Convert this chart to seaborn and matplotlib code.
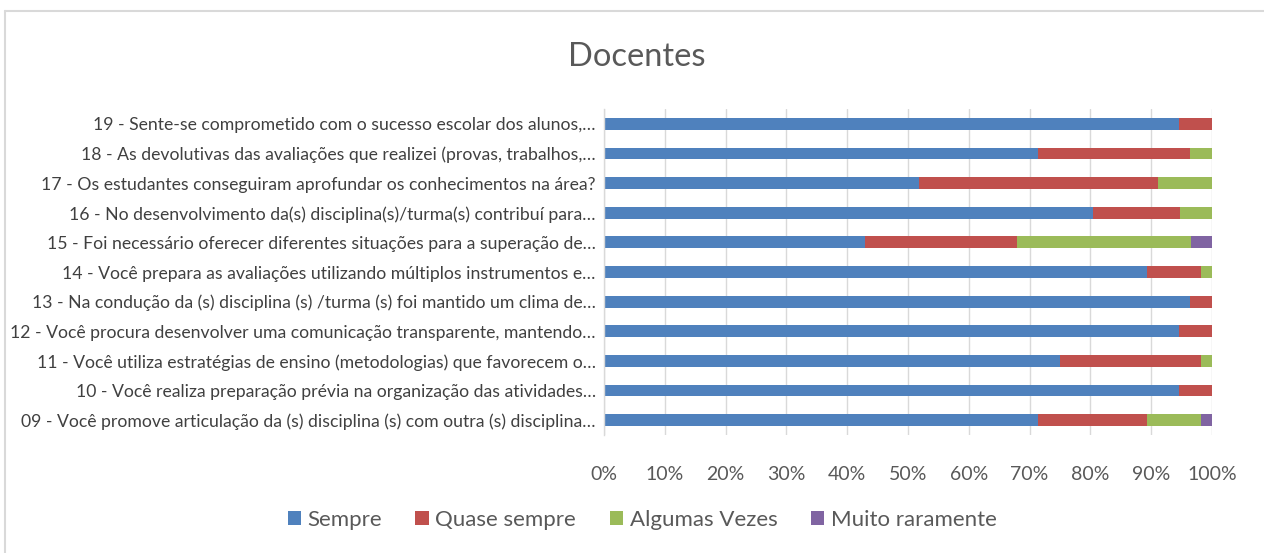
import matplotlib
matplotlib.use("Agg")
import matplotlib.pyplot as plt
import seaborn as sns
import pandas as pd
import numpy as np
from matplotlib.patches import Patch
from matplotlib.lines import Line2D

categories = [
    "19 - Sente-se comprometido com o sucesso escolar dos alunos,…",
    "18 - As devolutivas das avaliações que realizei (provas, trabalhos,…",
    "17 - Os estudantes conseguiram aprofundar os conhecimentos na área?",
    "16 - No desenvolvimento da(s) disciplina(s)/turma(s) contribuí para…",
    "15 - Foi necessário oferecer diferentes situações para a superação de…",
    "14 - Você prepara as avaliações utilizando múltiplos instrumentos e…",
    "13 - Na condução da (s) disciplina (s) /turma (s) foi mantido um clima de…",
    "12 - Você procura desenvolver uma comunicação transparente, mantendo…",
    "11 - Você utiliza estratégias de ensino (metodologias) que favorecem o…",
    "10 - Você realiza preparação prévia na organização das atividades…",
    "09 - Você promove articulação da (s) disciplina (s) com outra (s) disciplina…",
]
series_names = ["Sempre", "Quase sempre", "Algumas Vezes", "Muito raramente"]
sempre = [94.6, 71.4, 51.8, 80.4, 42.9, 89.3, 96.4, 94.6, 75.0, 94.6, 71.4]
quase_sempre = [5.4, 25.0, 39.3, 14.3, 25.0, 8.9, 3.6, 5.4, 23.2, 5.4, 17.9]
algumas_vezes = [0.0, 3.6, 8.9, 5.3, 28.6, 1.8, 0.0, 0.0, 1.8, 0.0, 8.9]
muito_raramente = [0.0, 0.0, 0.0, 0.0, 3.5, 0.0, 0.0, 0.0, 0.0, 0.0, 1.8]
colors = ["#4F81BD", "#C0504D", "#9BBB59", "#8064A2"]
x_ticklabels = ["0%", "10%", "20%", "30%", "40%", "50%", "60%", "70%", "80%", "90%", "100%"]

sns.set_theme(style="white")
plt.rcParams["font.family"] = ["Lato", "DejaVu Sans"]

W, H = 1264, 553
fig = plt.figure(figsize=(W / 100, H / 100), dpi=100)
fig.patch.set_facecolor("white")

# chart border (left/top visible, extends beyond right/bottom)
fig.add_artist(Line2D([5 / W, 5 / W], [0, 1 - 11 / H], transform=fig.transFigure, color="#d9d9d9", lw=1.5))
fig.add_artist(Line2D([5 / W, 1], [1 - 11 / H, 1 - 11 / H], transform=fig.transFigure, color="#d9d9d9", lw=1.5))

ax_left, ax_right, ax_top, ax_bottom = 604, 1212, 109, 435
ax = fig.add_axes([ax_left / W, 1 - ax_bottom / H, (ax_right - ax_left) / W, (ax_bottom - ax_top) / H])

df = pd.DataFrame({
    "cat": categories,
    "Sempre": sempre,
    "Quase sempre": quase_sempre,
    "Algumas Vezes": algumas_vezes,
    "Muito raramente": muito_raramente,
})
cum = df[series_names].cumsum(axis=1)

for name, col in reversed(list(zip(series_names, colors))):
    sns.barplot(x=cum[name], y=df["cat"], orient="h", color=col, width=0.4,
                ax=ax, saturation=1, linewidth=0, order=categories)

ax.set_xlim(0, 100)
ax.set_ylim(len(categories) - 0.5, -0.5)
ax.set_xticks(np.arange(0, 101, 10))
ax.set_xticklabels(x_ticklabels)
ax.set_xlabel("")
ax.set_ylabel("")
ax.grid(axis="x", color="#d9d9d9", lw=1)
ax.set_axisbelow(True)
for s in ["top", "right", "bottom"]:
    ax.spines[s].set_visible(False)
ax.spines["left"].set_color("#d9d9d9")
ax.spines["left"].set_linewidth(1)
ax.tick_params(axis="x", length=0, pad=22, labelsize=14, labelcolor="#595959")
ax.tick_params(axis="y", length=0, pad=6, labelsize=12.7, labelcolor="#404040")

fig.text(637 / W, 1 - 57 / H, "Docentes", ha="center", va="center", fontsize=23.5, color="#595959")

handles = [Patch(facecolor=c, edgecolor="none") for c in colors]
leg = fig.legend(handles, series_names, loc="center", bbox_to_anchor=(642 / W, 1 - 520 / H), ncol=4,
                 frameon=False, fontsize=16, handlelength=0.6, handleheight=0.6, handletextpad=0.3,
                 columnspacing=1.5)
for t in leg.get_texts():
    t.set_color("#595959")

fig.savefig("out.png", dpi=100, facecolor="white")
